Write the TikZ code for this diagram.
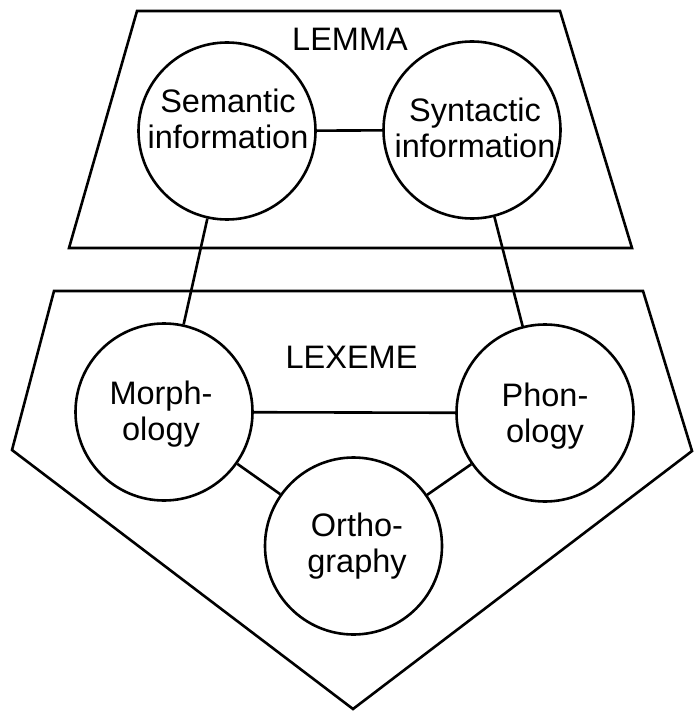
\documentclass[tikz,border=0pt]{standalone}
\usepackage{fontspec}
\setmainfont{Liberation Sans}
\begin{document}
\begin{tikzpicture}[x=1pt,y=-1pt,line width=2.6pt,
  circ/.style={draw,circle,minimum size=177pt,inner sep=0pt},
  txt/.style={font=\fontsize{32.5}{35.5}\selectfont,align=center,inner sep=0pt,anchor=north},
  link/.style={draw}]
\useasboundingbox (0,0) rectangle (694,711);
% LEMMA trapezoid
\draw (137,11) -- (560,11) -- (632,248) -- (69,248) -- cycle;
% LEXEME pentagon
\draw (54,291) -- (643,291) -- (692,451) -- (353,709) -- (12,450) -- cycle;
% titles
\node[txt] (lemma) at (350,27) {LEMMA};
\node[txt] (lexeme) at (351.5,345) {LEXEME};
% circles
\node[circ] (sem) at (227,131) {};
\node[circ] (syn) at (472,130) {};
\node[circ] (mor) at (164,412) {};
\node[circ] (pho) at (545,413) {};
\node[circ] (ort) at (353.5,546) {};
% circle texts
\node[txt] (semt) at (228,88) {Semantic\\information};
\node[txt] (synt) at (475,97) {Syntactic\\information};
\node[txt] (mort) at (161,380) {Morph-\\ology};
\node[txt] (phot) at (545,382) {Phon-\\ology};
\node[txt] (ortt) at (357,512) {Ortho-\\graphy};
% connectors
\draw[link] (sem) -- (syn);
\draw[link] (sem) -- (mor);
\draw[link] (syn) -- (pho);
\draw[link] (mor) -- (pho);
\draw[link] (mor) -- (ort);
\draw[link] (pho) -- (ort);
\end{tikzpicture}
\end{document}
